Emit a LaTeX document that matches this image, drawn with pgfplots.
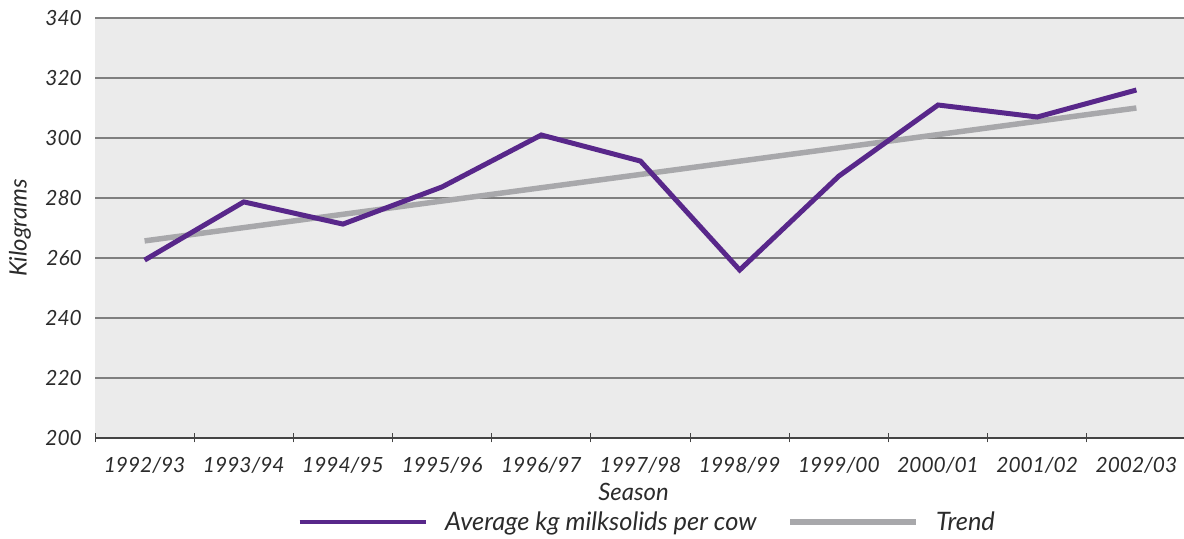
\documentclass[border=0pt]{standalone}
\usepackage{fontspec}
\setmainfont{Lato}
\usepackage{pgfplots}
\pgfplotsset{compat=1.18}
\definecolor{milk}{HTML}{58278A}
\definecolor{trendgray}{HTML}{A8A8AB}
\definecolor{bggray}{HTML}{EBEBEB}
\definecolor{gridgray}{HTML}{7F7F7F}
\definecolor{axisdark}{HTML}{444444}
\definecolor{txt}{HTML}{2B2B2B}
\newcommand{\cf}{\fontsize{24}{28}\selectfont\itshape}
\newcommand{\tf}{\fontsize{21}{25}\selectfont\itshape}
\newcommand{\lf}{\fontsize{25.5}{30}\selectfont\itshape}
\begin{document}
\begin{tikzpicture}[font=\cf]
\begin{axis}[
  at={(95bp,101bp)}, anchor=south west,
  scale only axis, width=1091bp, height=420bp,
  xmin=-0.5, xmax=10.5, ymin=200, ymax=340,
  ytick={200,220,...,340},
  xtick={0,...,10},
  xticklabels={1992/93,1993/94,1994/95,1995/96,1996/97,1997/98,1998/99,1999/00,2000/01,2001/02,2002/03},
  extra x ticks={-0.5,0.5,...,10.5},
  extra x tick labels={},
  extra x tick style={major tick length=9bp, tick align=center, tick style={draw=axisdark, line width=1pt}, grid=none},
  major tick length=0pt,
  axis lines*=left,
  x axis line style={draw=axisdark, line width=1.2pt, -},
  y axis line style={draw=none},
  ytick style={draw=none},
  ymajorgrids, grid style={draw=gridgray, line width=1.3pt},
  axis background/.style={fill=bggray},
  /pgf/number format/assume math mode=true,
  every tick label/.append style={font=\tf, text=txt},
  xticklabel style={anchor=center, yshift=-27bp},
  yticklabel style={anchor=east, inner sep=0pt, xshift=-13bp},
  xlabel={Season}, ylabel={Kilograms},
  every axis x label/.style={at={(axis description cs:0.5,0)}, anchor=center, xshift=-7bp, yshift=-54bp, font=\cf, text=txt},
  every axis y label/.style={at={(axis description cs:0,0.5)}, anchor=center, rotate=90, yshift=75bp, font=\cf, text=txt},
  legend columns=2,
  legend style={draw=none, fill=none, at={(0.506,0)}, anchor=center, yshift=-84bp,
    font=\lf, text=txt,
    /tikz/every odd column/.append style={column sep=15bp},
    /tikz/every even column/.append style={column sep=29bp}},
  legend image code/.code={\draw[#1] (0bp,0bp) -- (126bp,0bp);},
  clip=false,
]
\addplot[color=trendgray, line width=5.5pt, forget plot] coordinates {(0,265.7) (10,310)};
\addplot[color=milk, line width=5pt, line join=miter, forget plot] coordinates {
(0,259.3) (1,278.7) (2,271.3) (3,283.7) (4,301) (5,292.3) (6,256) (7,287.3) (8,311) (9,307) (10,316)};
\addlegendimage{color=milk, line width=5pt}
\addlegendentry{Average kg milksolids per cow}
\addlegendimage{color=trendgray, line width=5.5pt}
\addlegendentry{Trend}
\end{axis}
\pgfresetboundingbox
\path (0,0) rectangle (1184bp,539bp);
\end{tikzpicture}
\end{document}
